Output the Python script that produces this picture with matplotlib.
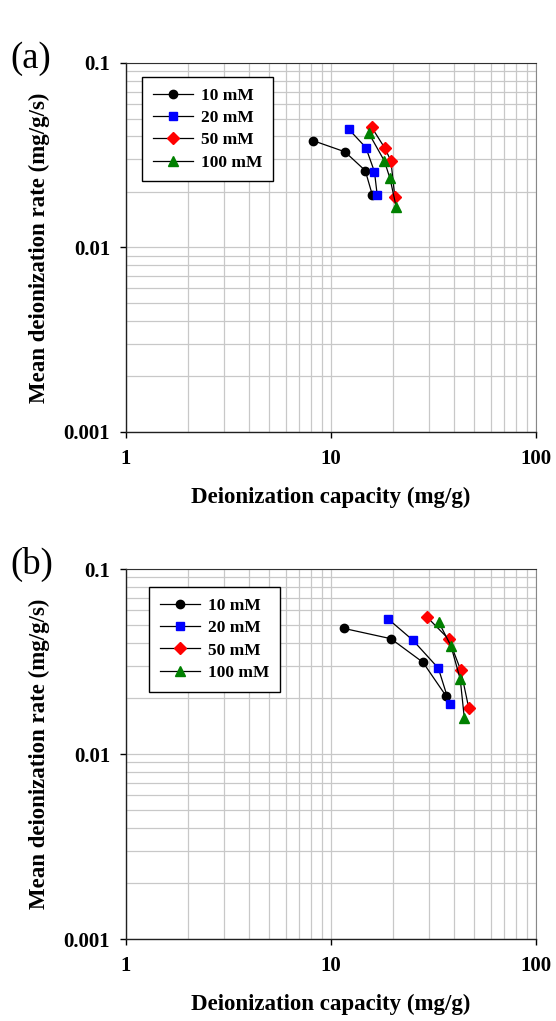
import matplotlib
matplotlib.use('Agg')
import matplotlib.pyplot as plt
from matplotlib.ticker import LogLocator, FixedLocator, NullFormatter

plt.rcParams['font.family'] = ['Liberation Serif', 'DejaVu Serif']

labels = ['10 mM', '20 mM', '50 mM', '100 mM']
colors = ['black', '#0000FF', '#FF0000', '#008000']
markers = ['o', 's', 'D', '^']
msizes = [6, 6, 6, 6.5]

# panel (a): deionization capacity (mg/g) and mean rate (mg/g/s)
cap_a = [
    [8.2, 11.7, 14.7, 15.9],
    [12.2, 14.8, 16.3, 16.8],
    [15.8, 18.3, 19.6, 20.5],
    [15.3, 18.2, 19.4, 20.8],
]
rate_a = [
    [0.0379, 0.0330, 0.0261, 0.0193],
    [0.0438, 0.0348, 0.0257, 0.0193],
    [0.0448, 0.0346, 0.0295, 0.0187],
    [0.0416, 0.0295, 0.0237, 0.0166],
]

# panel (b)
cap_b = [
    [11.6, 19.6, 28.1, 36.4],
    [19.0, 25.1, 33.4, 37.9],
    [29.5, 37.6, 43.0, 47.0],
    [33.5, 38.5, 42.7, 44.7],
]
rate_b = [
    [0.0477, 0.0420, 0.0313, 0.0206],
    [0.0537, 0.0412, 0.0291, 0.0186],
    [0.0548, 0.0417, 0.0283, 0.0177],
    [0.0518, 0.0383, 0.0254, 0.0157],
]

xticks = [1, 10, 100]
yticks = [0.001, 0.01, 0.1]
ytick_labels = ['0.001', '0.01', '0.1']

fig = plt.figure(figsize=(5.56, 10.21), dpi=100)
ax_a = fig.add_axes([0.2266, 0.5769, 0.7374, 0.3614])
ax_b = fig.add_axes([0.2266, 0.0803, 0.7374, 0.3624])


def draw_panel(ax, caps, rates, tag, legend_anchor):
    for c, r, lab, col, mk, ms in zip(caps, rates, labels, colors, markers, msizes):
        ax.plot(c, r, color='black', lw=0.9, marker=mk, ms=ms,
                markerfacecolor=col, markeredgecolor=col, label=lab, zorder=3)
    ax.set_xscale('log')
    ax.set_yscale('log')
    ax.set_xlim(1, 100)
    ax.set_ylim(0.001, 0.1)
    ax.xaxis.set_major_locator(FixedLocator(xticks))
    ax.yaxis.set_major_locator(FixedLocator(yticks))
    ax.set_xticklabels([str(v) for v in xticks])
    ax.set_yticklabels(ytick_labels)
    ax.xaxis.set_minor_locator(LogLocator(base=10, subs=range(2, 10)))
    ax.yaxis.set_minor_locator(LogLocator(base=10, subs=range(2, 10)))
    ax.xaxis.set_minor_formatter(NullFormatter())
    ax.yaxis.set_minor_formatter(NullFormatter())
    ax.grid(True, which='both', color='#c8c8c8', lw=0.9, zorder=0)
    ax.set_axisbelow(True)
    ax.spines['top'].set_color('#303030')
    ax.spines['right'].set_color('#888888')
    for s in ['left', 'bottom']:
        ax.spines[s].set_linewidth(1.0)
        ax.spines[s].set_color('#202020')
    ax.tick_params(axis='x', which='major', direction='out', length=4.5,
                   width=1.0, labelsize=15, pad=8)
    ax.tick_params(axis='y', which='major', direction='out', length=4,
                   width=1.0, labelsize=15, pad=7.5)
    ax.tick_params(which='minor', length=0)
    for t in ax.get_xticklabels() + ax.get_yticklabels():
        t.set_fontweight('bold')
    ax.set_xlabel('Deionization capacity (mg/g)', fontsize=16.5,
                  fontweight='bold')
    ax.set_ylabel('Mean deionization rate (mg/g/s)', fontsize=16.5,
                  fontweight='bold')
    ax.xaxis.set_label_coords(0.5, -0.148)
    ax.yaxis.set_label_coords(-0.185, 0.5)
    leg = ax.legend(loc='upper left', bbox_to_anchor=legend_anchor,
                    borderaxespad=0, fancybox=False, edgecolor='black',
                    framealpha=1, prop={'weight': 'bold', 'size': 12.5},
                    handlelength=2.3, borderpad=0.62, labelspacing=0.35,
                    handletextpad=0.5)
    leg.get_frame().set_linewidth(1.0)
    fig.text(0.018, ax.get_position().y1 + 0.004, tag, fontsize=26.5,
             va='center', ha='left')


draw_panel(ax_a, cap_a, rate_a, '(a)', (0.039, 0.962))
draw_panel(ax_b, cap_b, rate_b, '(b)', (0.056, 0.951))

fig.savefig('out.png', dpi=100)
